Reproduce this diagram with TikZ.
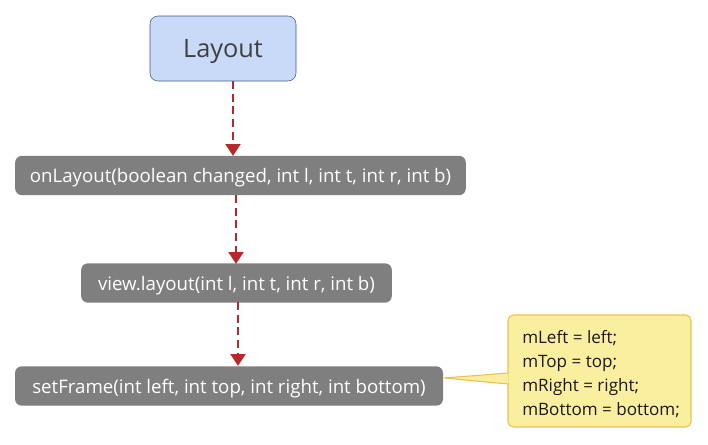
\documentclass[tikz,border=0pt]{standalone}
\usepackage{fontspec}
\setmainfont{Open Sans}
\usetikzlibrary{arrows.meta}
\definecolor{bluefill}{HTML}{C9DAF8}
\definecolor{blueline}{HTML}{3D5A8F}
\definecolor{graybox}{HTML}{7F7F7F}
\definecolor{arrowred}{HTML}{B8282A}
\definecolor{notefill}{HTML}{FAEF9E}
\definecolor{noteline}{HTML}{EBC153}
\begin{document}
\begin{tikzpicture}[x=0.75pt,y=-0.75pt,
  title/.style={draw=blueline,fill=bluefill,rounded corners=6pt,minimum width=109.5pt,minimum height=48.75pt,font=\fontsize{19}{22}\selectfont,text=black!75,inner sep=0pt,text height=14.2pt,text depth=0pt},
  method/.style={fill=graybox,rounded corners=5pt,minimum height=29.5pt,font=\fontsize{14}{16}\selectfont,text=white,inner sep=0pt,text height=10.5pt,text depth=0pt},
  flow/.style={draw=arrowred,line width=2.2pt,dash pattern=on 6pt off 3.5pt,-{Triangle[length=9pt,width=11pt]}},
  note/.style={draw=noteline,fill=notefill,rounded corners=4pt,line width=0.8pt,minimum width=137.25pt,minimum height=84pt,inner sep=0pt}
]
\useasboundingbox (0,0) rectangle (708,444);
\node[title] (layout) at (223,48.5) {Layout};
\node[method,minimum width=338pt] (onl) at (240.5,175.5) {onLayout(boolean changed, int l, int t, int r, int b)};
\node[method,minimum width=233pt] (vl) at (236.5,283) {view.layout(int l, int t, int r, int b)};
\node[method,minimum width=321pt] (sf) at (229,386) {setFrame(int left, int top, int right, int bottom)};
\draw[flow] (233,81) -- (233,156);
\draw[flow] (236,195) -- (236,264);
\draw[flow] (238,302) -- (238,366);
% note with pointer
\node[note] (note) at (599.5,371) {};
\coordinate (tip) at (444,378);
\coordinate (pa) at (508.4,373);
\coordinate (pb) at (508.4,384);
\fill[notefill] (pa) -- (tip) -- (pb) -- cycle;
\draw[noteline,line width=0.8pt,line join=miter] (pa) -- (tip) -- (pb);
\node[anchor=north west,align=left,font=\fontsize{12.8}{18}\selectfont,text=black!90,inner sep=0pt] (notetext) at (522,330) {mLeft = left;\\mTop = top;\\mRight = right;\\mBottom = bottom;};
\end{tikzpicture}
\end{document}
